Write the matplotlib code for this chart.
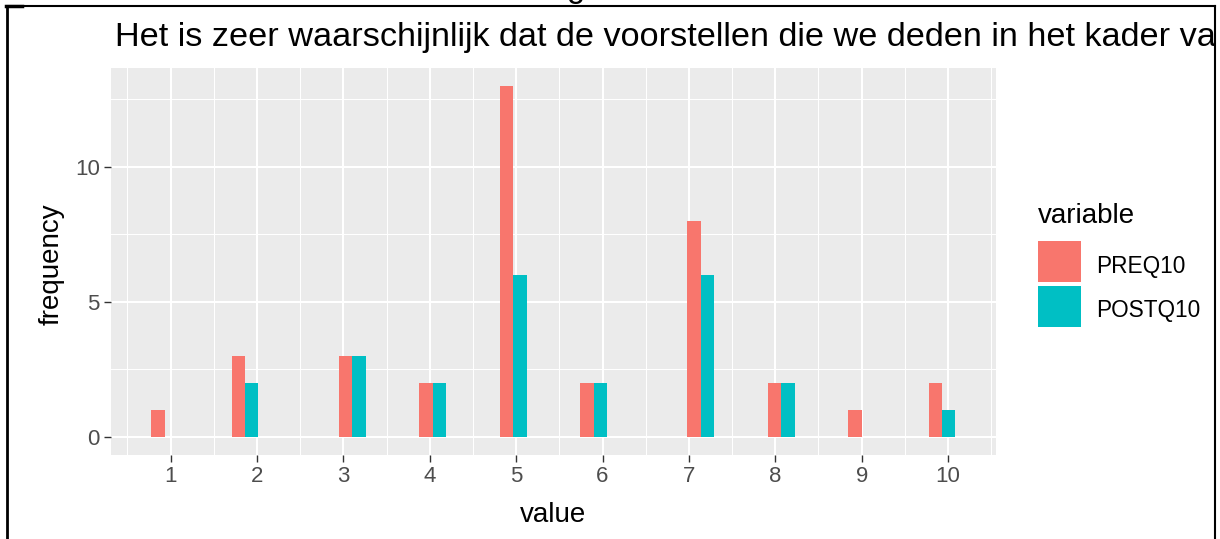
import numpy as np
import matplotlib
matplotlib.use("Agg")
import matplotlib.pyplot as plt
from matplotlib.lines import Line2D
from matplotlib.patches import Rectangle
from matplotlib.transforms import Bbox, TransformedBbox

plt.rcParams['font.family'] = ['Liberation Sans', 'DejaVu Sans']

# ---------------------------------------------------------------------------
# donnees (frequence par valeur)
values = [1, 2, 3, 4, 5, 6, 7, 8, 9, 10]
preq10 = [1, 3, 3, 2, 13, 2, 8, 2, 1, 2]
postq10 = [0, 2, 3, 2, 6, 2, 6, 2, 0, 1]
series = ["PREQ10", "POSTQ10"]
colors = ["#F8766D", "#00BFC4"]
title = "Het is zeer waarschijnlijk dat de voorstellen die we deden in het kader van"
x_ticks = [1, 2, 3, 4, 5, 6, 7, 8, 9, 10]
y_ticks = [0, 5, 10]

W, H = 1220, 539


# bins=30 comme geom_histogram de ggplot2
def bin_left_edges(vals, bins=30):
  vals = np.asarray(vals, dtype=float)
  lo, hi = vals.min(), vals.max()
  width = (hi - lo) / (bins - 1)
  boundary = width / 2
  shift = np.floor((lo - boundary) / width)
  origin = boundary + shift * width
  k = np.floor((vals - origin) / width)
  return origin + k * width, width


def px(x, y):
  return x / W, 1 - y / H


fig = plt.figure(figsize=(W / 100, H / 100), dpi=100)
l, b = 111 / W, 1 - 454.5 / H
r, t = 995.7 / W, 1 - 68 / H
ax = fig.add_axes([l, b, r - l, t - b])
ax.set_facecolor("#EBEBEB")

left, bw = bin_left_edges(values)
half = bw / 2
ax.bar(left, preq10, width=half, align="edge", color=colors[0], zorder=3)
ax.bar(left + half, postq10, width=half, align="edge", color=colors[1], zorder=3)

xlo, xhi = left.min(), left.max() + bw
xr = xhi - xlo
ax.set_xlim(xlo - 0.05 * xr, xhi + 0.05 * xr)
ymax = max(max(preq10), max(postq10))
ax.set_ylim(-0.05 * ymax, ymax * 1.05)

ax.set_xticks(x_ticks)
ax.set_xticks(np.arange(0.5, 11, 1), minor=True)
ax.set_yticks(y_ticks)
ax.set_yticks([2.5, 7.5, 12.5], minor=True)
ax.grid(which="major", color="white", lw=1.5, zorder=1)
ax.grid(which="minor", color="white", lw=0.75, zorder=1)
for s in ax.spines.values():
  s.set_visible(False)
ax.tick_params(which="major", length=5, width=1, color="#333333",
               labelsize=16, labelcolor="#4D4D4D", pad=3)
ax.tick_params(which="minor", length=0)

# titres des axes
fig.text(*px(553, 521.5), "value", fontsize=20, ha="center", va="baseline")
fig.text(*px(52, 264), "frequency", fontsize=20, rotation=90,
         ha="center", va="center")

# titre (coupe au bord droit)
tt = fig.text(*px(115, 46), title, fontsize=24.7, ha="left", va="baseline")
tt.set_clip_box(TransformedBbox(Bbox([[0, 0], [1214 / W, 1]]), fig.transFigure))
tt.set_clip_on(True)

# legende
fig.text(*px(1038, 223), "variable", fontsize=20, ha="left", va="baseline")
key_tops = [241, 286]
for name, c, ky in zip(series, colors, key_tops):
  x0, y0 = px(1038, ky + 40.5)
  fig.patches.append(Rectangle((x0, y0), 43 / W, 40.5 / H, transform=fig.transFigure,
                               facecolor=c, edgecolor="none"))
  fig.text(*px(1096, ky + 31.5), name, fontsize=16.3, ha="left", va="baseline")

# cadre du document
fig.lines.append(Line2D([7 / W, 1214.5 / W], [1 - 5.7 / H] * 2, transform=fig.transFigure,
                        color="black", lw=1.5))
fig.lines.append(Line2D([7 / W] * 2, [1 - 5.7 / H, 0], transform=fig.transFigure,
                        color="black", lw=2))
fig.lines.append(Line2D([1214.5 / W] * 2, [1 - 5.7 / H, 0], transform=fig.transFigure,
                        color="black", lw=1.5))
fig.lines.append(Line2D([6 / W, 22 / W], [1 - 5.5 / H] * 2, transform=fig.transFigure,
                        color="black", lw=2.5))
# bas d'une lettre du texte au-dessus, coupee par le bord
fig.text(575.5 / W, 1 + 3 / H, "g", fontsize=23.5, ha="center", va="baseline")

fig.savefig("out.png", dpi=100)
